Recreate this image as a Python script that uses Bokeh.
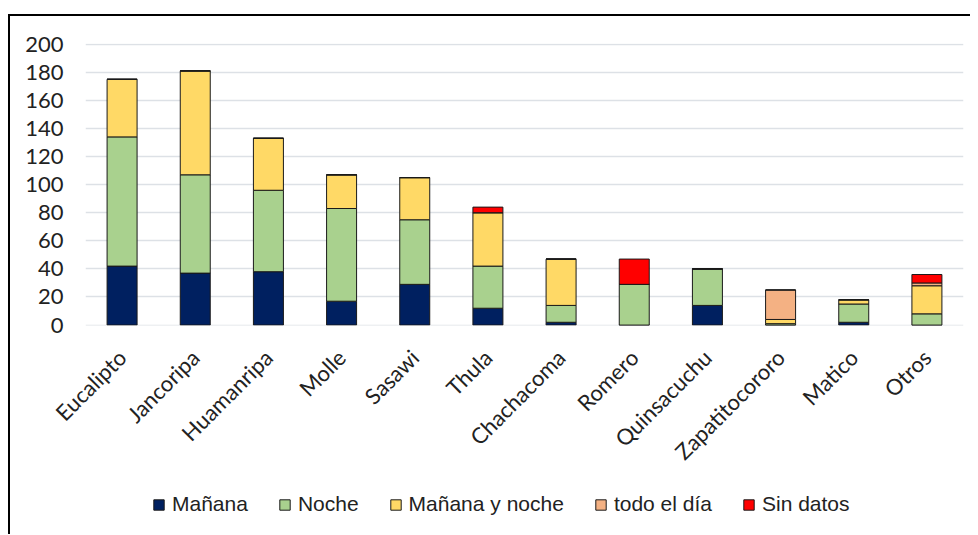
from bokeh.plotting import figure
from bokeh.models import FactorRange, Range1d, FixedTicker, Legend, LegendItem
from bokeh.layouts import column
from bokeh.embed import file_html
from bokeh.resources import INLINE
import math

categories = ["Eucalipto", "Jancoripa", "Huamanripa", "Molle", "Sasawi", "Thula",
              "Chachacoma", "Romero", "Quinsacuchu", "Zapatitocororo", "Matico", "Otros"]
manana = [42, 37, 38, 17, 29, 12, 2, 0, 14, 0, 2, 0]
noche = [92, 70, 58, 66, 46, 30, 12, 29, 26, 1, 13, 8]
manana_y_noche = [41, 74, 37, 24, 30, 38, 33, 0, 0, 3, 3, 20]
todo_el_dia = [0, 0, 0, 0, 0, 0, 0, 0, 0, 21, 0, 2]
sin_datos = [0, 0, 0, 0, 0, 4, 0, 18, 0, 0, 0, 6]

series_names = ["Mañana", "Noche", "Mañana y noche", "todo el día", "Sin datos"]
series_keys = ["manana", "noche", "myn", "todo", "sin"]
colors = ["#002060", "#A9D18E", "#FFD966", "#F4B183", "#FF0000"]
y_ticks = [0, 20, 40, 60, 80, 100, 120, 140, 160, 180, 200]

data = dict(cat=categories, manana=manana, noche=noche, myn=manana_y_noche,
            todo=todo_el_dia, sin=sin_datos)

x_range = FactorRange(*categories, range_padding=0)

p = figure(x_range=x_range, y_range=Range1d(-0.3, 200.5),
           frame_width=878, frame_height=282,
           output_backend="svg", toolbar_location=None,
           min_border_left=75, min_border_right=7, min_border_top=27,
           min_border_bottom=165)

renderers = p.vbar_stack(series_keys, x="cat", width=0.41, source=data,
                         color=colors, line_color="black", line_width=1)
for r, c in zip(renderers, colors):
    r.glyph.fill_color = c
    r.glyph.line_color = "#1a1a1a"

p.outline_line_color = None
p.background_fill_color = "white"
p.border_fill_color = "white"

p.xgrid.grid_line_color = None
p.ygrid.grid_line_color = "#dde1e6"
p.ygrid.grid_line_width = 1.6
p.ygrid.ticker = FixedTicker(ticks=y_ticks)

p.yaxis.ticker = FixedTicker(ticks=y_ticks)
p.yaxis.axis_line_color = None
p.yaxis.major_tick_line_color = None
p.yaxis.minor_tick_line_color = None
p.yaxis.major_label_standoff = 16
p.yaxis.major_label_text_font = "Lato"
p.yaxis.major_label_text_font_size = "22px"
p.yaxis.major_label_text_color = "#222222"

p.xaxis.axis_line_color = None
p.xaxis.major_tick_line_color = None
p.xaxis.minor_tick_line_color = None
p.xaxis.major_label_orientation = math.pi / 4
p.xaxis.major_label_standoff = 22
p.xaxis.major_label_text_font = "Lato"
p.xaxis.major_label_text_font_size = "22px"
p.xaxis.major_label_text_color = "#222222"

# legend strip below the chart: same series, drawn out of view, only the legend shows
pl = figure(width=960, height=44, x_range=x_range, y_range=Range1d(1000, 1001),
            output_backend="svg", toolbar_location=None,
            x_axis_type=None, y_axis_type=None,
            min_border_left=0, min_border_right=0, min_border_top=0,
            min_border_bottom=0)
pl.outline_line_color = None
pl.xgrid.grid_line_color = None
pl.ygrid.grid_line_color = None
swatches = pl.vbar_stack(series_keys, x="cat", width=0.41, source=data,
                         color=colors, line_color="#1a1a1a", line_width=1)
items = [LegendItem(label=n, renderers=[r]) for n, r in zip(series_names, swatches)]
legend = Legend(items=items, orientation="horizontal", location=(67, 18),
                glyph_width=13, glyph_height=13, label_standoff=7, spacing=30,
                padding=0, margin=0, border_line_color=None,
                background_fill_alpha=0,
                label_text_font="Liberation Sans", label_text_font_size="21px",
                label_text_color="#222222", label_height=20)
pl.add_layout(legend, "center")

layout = column(p, pl, spacing=0)
layout.styles = {"border-top": "2px solid black", "border-left": "2px solid black",
                 "margin-top": "14px", "margin-left": "8px"}

open("out.html", "w").write(file_html(layout, INLINE))
